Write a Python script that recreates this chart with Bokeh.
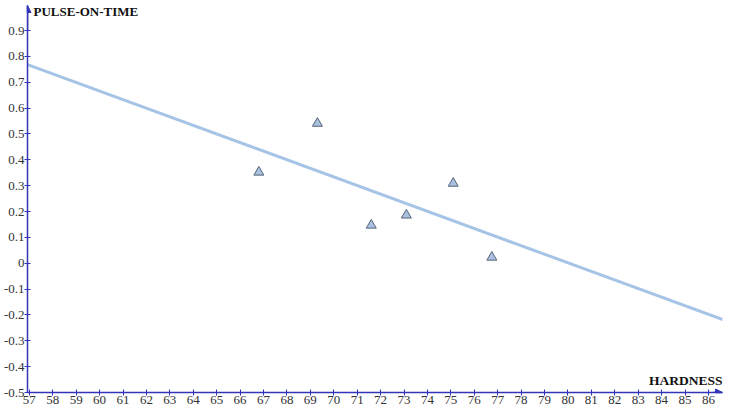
from bokeh.plotting import figure
from bokeh.models import FixedTicker, Arrow, NormalHead, Label, Range1d
from bokeh.embed import file_html
from bokeh.resources import INLINE

# data
hardness = [66.8, 69.3, 71.6, 73.1, 75.1, 76.75]
pulse_on_time = [0.352, 0.541, 0.147, 0.186, 0.309, 0.023]
fit_x = [56.92, 86.8]
fit_y = [0.768, -0.224]

x_ticks = list(range(57, 87))
y_ticks = [-0.5, -0.4, -0.3, -0.2, -0.1, 0.0, 0.1, 0.2, 0.3, 0.4, 0.5, 0.6, 0.7, 0.8, 0.9]
y_tick_labels = ["-0.5", "-0.4", "-0.3", "-0.2", "-0.1", "0", "0.1", "0.2", "0.3",
                 "0.4", "0.5", "0.6", "0.7", "0.8", "0.9"]
x_title = "HARDNESS"
y_title = "PULSE-ON-TIME"

X0, X1 = 56.92, 86.6
Y0, Y1 = -0.5, 0.997
AXC = "#3434b8"
FONT = "Liberation Serif"

p = figure(width=724, height=406, output_backend="svg", toolbar_location=None,
           x_range=Range1d(X0, X1), y_range=Range1d(Y0, Y1),
           min_border_left=0, min_border_right=2, min_border_top=5, min_border_bottom=0)
p.outline_line_color = None
p.grid.visible = False

for ax in (p.xaxis[0], p.yaxis[0]):
    ax.axis_line_color = AXC
    ax.axis_line_width = 1.5
    ax.major_tick_line_color = AXC
    ax.major_tick_in = 3
    ax.major_tick_out = 3
    ax.minor_tick_line_color = None
    ax.major_label_text_font = FONT
    ax.major_label_text_font_size = "13px"
    ax.major_label_text_color = "#333333"
    ax.major_label_standoff = 0

p.xaxis.ticker = FixedTicker(ticks=x_ticks)
p.yaxis.ticker = FixedTicker(ticks=y_ticks)
p.yaxis.major_label_overrides = dict(zip(y_ticks, y_tick_labels))

p.line(fit_x, fit_y, line_color="#a6c4e6", line_width=3)
p.scatter(hardness, pulse_on_time, marker="triangle", size=10,
          fill_color="#a9c1de", line_color="#56647a", line_width=1)

p.add_layout(Arrow(x_start=X0, y_start=0.9, x_end=X0, y_end=Y1,
                   line_color=AXC, line_width=1.5,
                   end=NormalHead(size=7, fill_color=AXC, line_color=AXC)))
p.add_layout(Arrow(x_start=86.2, y_start=Y0, x_end=X1, y_end=Y0,
                   line_color=AXC, line_width=1.5,
                   end=NormalHead(size=7, fill_color=AXC, line_color=AXC)))

p.add_layout(Label(x=X0, y=0.975, x_offset=6, text=y_title, text_font=FONT,
                   text_font_style="bold", text_font_size="13px",
                   text_baseline="middle", text_color="#111111"))
p.add_layout(Label(x=X1, y=-0.482, text=x_title, text_font=FONT,
                   text_font_style="bold", text_font_size="13.5px",
                   text_align="right", text_baseline="bottom", text_color="#111111"))

open("out.html", "w").write(file_html(p, INLINE))
